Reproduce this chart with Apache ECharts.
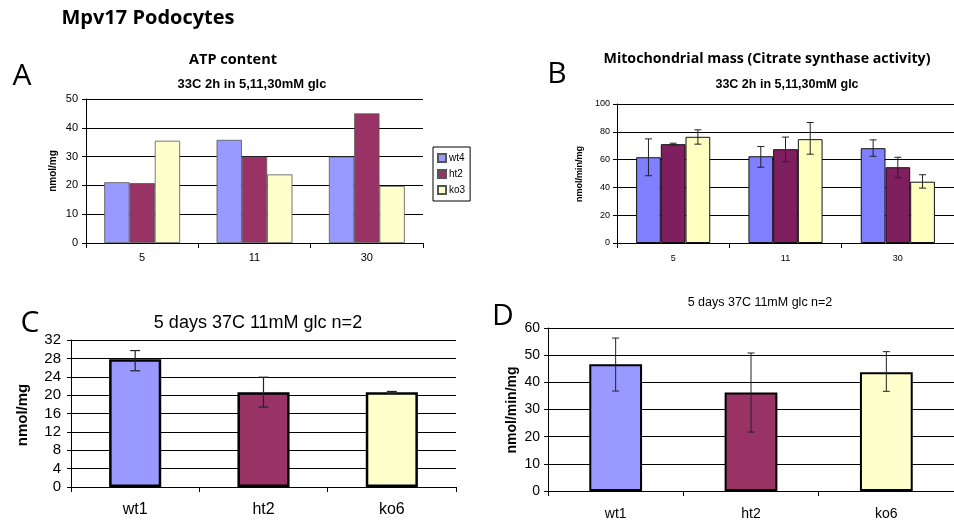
<!DOCTYPE html>
<html>
<head>
<meta charset="utf-8">
<script src="https://cdn.jsdelivr.net/npm/echarts@6/dist/echarts.min.js"></script>
<style>html,body{margin:0;padding:0;background:#fff}#c{width:954px;height:521px}</style>
</head>
<body>
<div id="c"></div>
<script>
// ---- data ----
const catsAB = ['5', '11', '30'];
const seriesNamesAB = ['wt4', 'ht2', 'ko3'];
const atpWt4 = [21.1, 35.8, 30.0];
const atpHt2 = [20.8, 30.0, 45.0];
const atpKo3 = [35.5, 23.8, 19.8];

const csWt4 = [61.7, 62.4, 68.2];
const csWt4Lo = [48.4, 54.5, 62.4];
const csWt4Hi = [74.9, 69.4, 74.2];
const csHt2 = [71.1, 67.5, 54.5];
const csHt2Lo = [70.4, 58.5, 47.0];
const csHt2Hi = [71.8, 76.2, 61.7];
const csKo3 = [76.4, 74.7, 44.1];
const csKo3Lo = [71.1, 63.9, 39.5];
const csKo3Hi = [81.4, 86.7, 49.1];

const catsCD = ['wt1', 'ht2', 'ko6'];
const atp5d = [27.8, 20.6, 20.6];
const atp5dLo = [25.3, 17.4, 20.4];
const atp5dHi = [29.7, 23.9, 20.8];
const cs5d = [46.7, 36.3, 43.7];
const cs5dLo = [36.8, 21.7, 36.7];
const cs5dHi = [56.3, 50.8, 51.3];

const ticksA = [0, 10, 20, 30, 40, 50];
const ticksB = [0, 20, 40, 60, 80, 100];
const ticksC = [0, 4, 8, 12, 16, 20, 24, 28, 32];
const ticksD = [0, 10, 20, 30, 40, 50, 60];

// ---- styles ----
const colA = ['#9999FF', '#993366', '#FFFFCC'];
const colB = ['#7F7FFF', '#7F1F5F', '#FFFFC0'];
const FONT = 'Liberation Sans, Arial, sans-serif';
const HFONT = 'Open Sans, Noto Sans, sans-serif';

function errSeries(name, xi, lo, hi, offIdx, nSer, widthFrac, cap, lw) {
  return {
    type: 'custom', name: name, xAxisIndex: xi, yAxisIndex: xi, z: 10, silent: true,
    data: lo.map((l, i) => [i, l, hi[i]]),
    renderItem: function (params, api) {
      const bw = api.size([1, 0])[0] * widthFrac;
      const off = (offIdx - (nSer - 1) / 2) * bw;
      const p1 = api.coord([api.value(0), api.value(1)]);
      const p2 = api.coord([api.value(0), api.value(2)]);
      const x = p1[0] + off;
      const st = { stroke: '#222', lineWidth: lw };
      return {
        type: 'group', children: [
          { type: 'line', shape: { x1: x, y1: p1[1], x2: x, y2: p2[1] }, style: st },
          { type: 'line', shape: { x1: x - cap, y1: p1[1], x2: x + cap, y2: p1[1] }, style: st },
          { type: 'line', shape: { x1: x - cap, y1: p2[1], x2: x + cap, y2: p2[1] }, style: st }
        ]
      };
    }
  };
}

function yAx(gi, ticks, fs, margin) {
  return {
    type: 'value', gridIndex: gi, min: ticks[0], max: ticks[ticks.length - 1],
    interval: ticks[1] - ticks[0],
    axisLine: { show: true, lineStyle: { color: '#000', width: 1 } },
    axisTick: { show: true, length: 4, lineStyle: { color: '#000' } },
    axisLabel: { color: '#000', fontFamily: FONT, fontSize: fs, margin: margin },
    splitLine: { show: true, lineStyle: { color: '#000', width: 1 } }
  };
}
function xAx(gi, cats, fs, margin) {
  return {
    type: 'category', gridIndex: gi, data: cats,
    axisLine: { show: true, lineStyle: { color: '#000', width: 1 } },
    axisTick: { show: true, length: 5, lineStyle: { color: '#000' } },
    axisLabel: { color: '#000', fontFamily: FONT, fontSize: fs, margin: margin }
  };
}

const chart = echarts.init(document.getElementById('c'), null, { renderer: 'canvas' });

const series = [];
// Panel A
[atpWt4, atpHt2, atpKo3].forEach((d, i) => {
  series.push({
    type: 'bar', name: seriesNamesAB[i], xAxisIndex: 0, yAxisIndex: 0, data: d,
    barWidth: '22.5%', barGap: '0%',
    itemStyle: { color: colA[i], borderColor: '#555', borderWidth: 0.8 }
  });
});
// Panel B
[[csWt4, csWt4Lo, csWt4Hi], [csHt2, csHt2Lo, csHt2Hi], [csKo3, csKo3Lo, csKo3Hi]].forEach((s, i) => {
  series.push({
    type: 'bar', name: 'B' + seriesNamesAB[i], xAxisIndex: 1, yAxisIndex: 1, data: s[0],
    barWidth: '22%', barGap: '0%',
    itemStyle: { color: colB[i], borderColor: '#111', borderWidth: 1 }
  });
  series.push(errSeries('Be' + i, 1, s[1], s[2], i, 3, 0.22, 3.5, 1));
});
// Panel C
series.push({
  type: 'bar', name: 'C', xAxisIndex: 2, yAxisIndex: 2, barWidth: '40.6%',
  data: atp5d.map((v, i) => ({ value: v, itemStyle: { color: colA[i] } })),
  itemStyle: { borderColor: '#000', borderWidth: 2.5 }
});
series.push(errSeries('Ce', 2, atp5dLo, atp5dHi, 0, 1, 0.406, 5, 1.2));
// Panel D
series.push({
  type: 'bar', name: 'D', xAxisIndex: 3, yAxisIndex: 3, barWidth: '39%',
  data: cs5d.map((v, i) => ({ value: v, itemStyle: { color: colA[i] } })),
  itemStyle: { borderColor: '#000', borderWidth: 2 }
});
series.push(errSeries('De', 3, cs5dLo, cs5dHi, 0, 1, 0.39, 3.5, 1));

function txt(x, y, s, size, weight, family, rot) {
  return {
    type: 'text', x: x, y: y, rotation: rot || 0,
    style: { text: s, fontSize: size, fontWeight: weight, fontFamily: family, fill: '#000',
      textAlign: 'center', textVerticalAlign: 'middle' }
  };
}

chart.setOption({
  animation: false,
  backgroundColor: '#fff',
  grid: [
    { left: 86, top: 99, width: 337, height: 144 },
    { left: 617, top: 104, width: 340, height: 139 },
    { left: 71, top: 340, width: 385, height: 147 },
    { left: 548, top: 328, width: 412, height: 163 }
  ],
  xAxis: [xAx(0, catsAB, 11, 9), xAx(1, catsAB, 9, 11), xAx(2, catsCD, 16, 15), xAx(3, catsCD, 14, 16)],
  yAxis: [yAx(0, ticksA, 11, 8), yAx(1, ticksB, 9, 7), yAx(2, ticksC, 15, 10), yAx(3, ticksD, 14, 8)],
  legend: {
    data: seriesNamesAB, orient: 'vertical', left: 433, top: 147, padding: [6, 5, 6, 4],
    itemGap: 6, itemWidth: 8, itemHeight: 8, icon: 'rect',
    borderColor: '#000', borderWidth: 1,
    textStyle: { fontFamily: FONT, fontSize: 10, color: '#000', padding: [0, 0, 0, -2] }
  },
  series: series,
  graphic: [
    txt(148, 18, 'Mpv17 Podocytes', 20, 'bold', HFONT),
    txt(22, 76, 'A', 30, 'normal', HFONT),
    txt(233, 60, 'ATP content', 14.5, 'bold', HFONT),
    txt(252, 84, '33C 2h in 5,11,30mM glc', 13, 'bold', FONT),
    txt(53, 171, 'nmol/mg', 10, 'bold', FONT, Math.PI / 2),
    txt(557, 74, 'B', 30, 'normal', HFONT),
    txt(767, 59, 'Mitochondrial mass (Citrate synthase activity)', 14.2, 'bold', HFONT),
    txt(787, 85, '33C 2h in 5,11,30mM glc', 12.5, 'bold', FONT),
    txt(580, 174, 'nmol/min/mg', 9, 'bold', FONT, Math.PI / 2),
    txt(30, 323, 'C', 30, 'normal', HFONT),
    txt(258, 323, '5 days 37C 11mM glc n=2', 18, 'normal', FONT),
    txt(23, 415, 'nmol/mg', 15, 'bold', FONT, Math.PI / 2),
    txt(503, 316, 'D', 30, 'normal', HFONT),
    txt(760, 303, '5 days 37C 11mM glc n=2', 12.5, 'normal', FONT),
    txt(512, 410, 'nmol/min/mg', 14, 'bold', FONT, Math.PI / 2)
  ]
});
</script>
</body>
</html>
